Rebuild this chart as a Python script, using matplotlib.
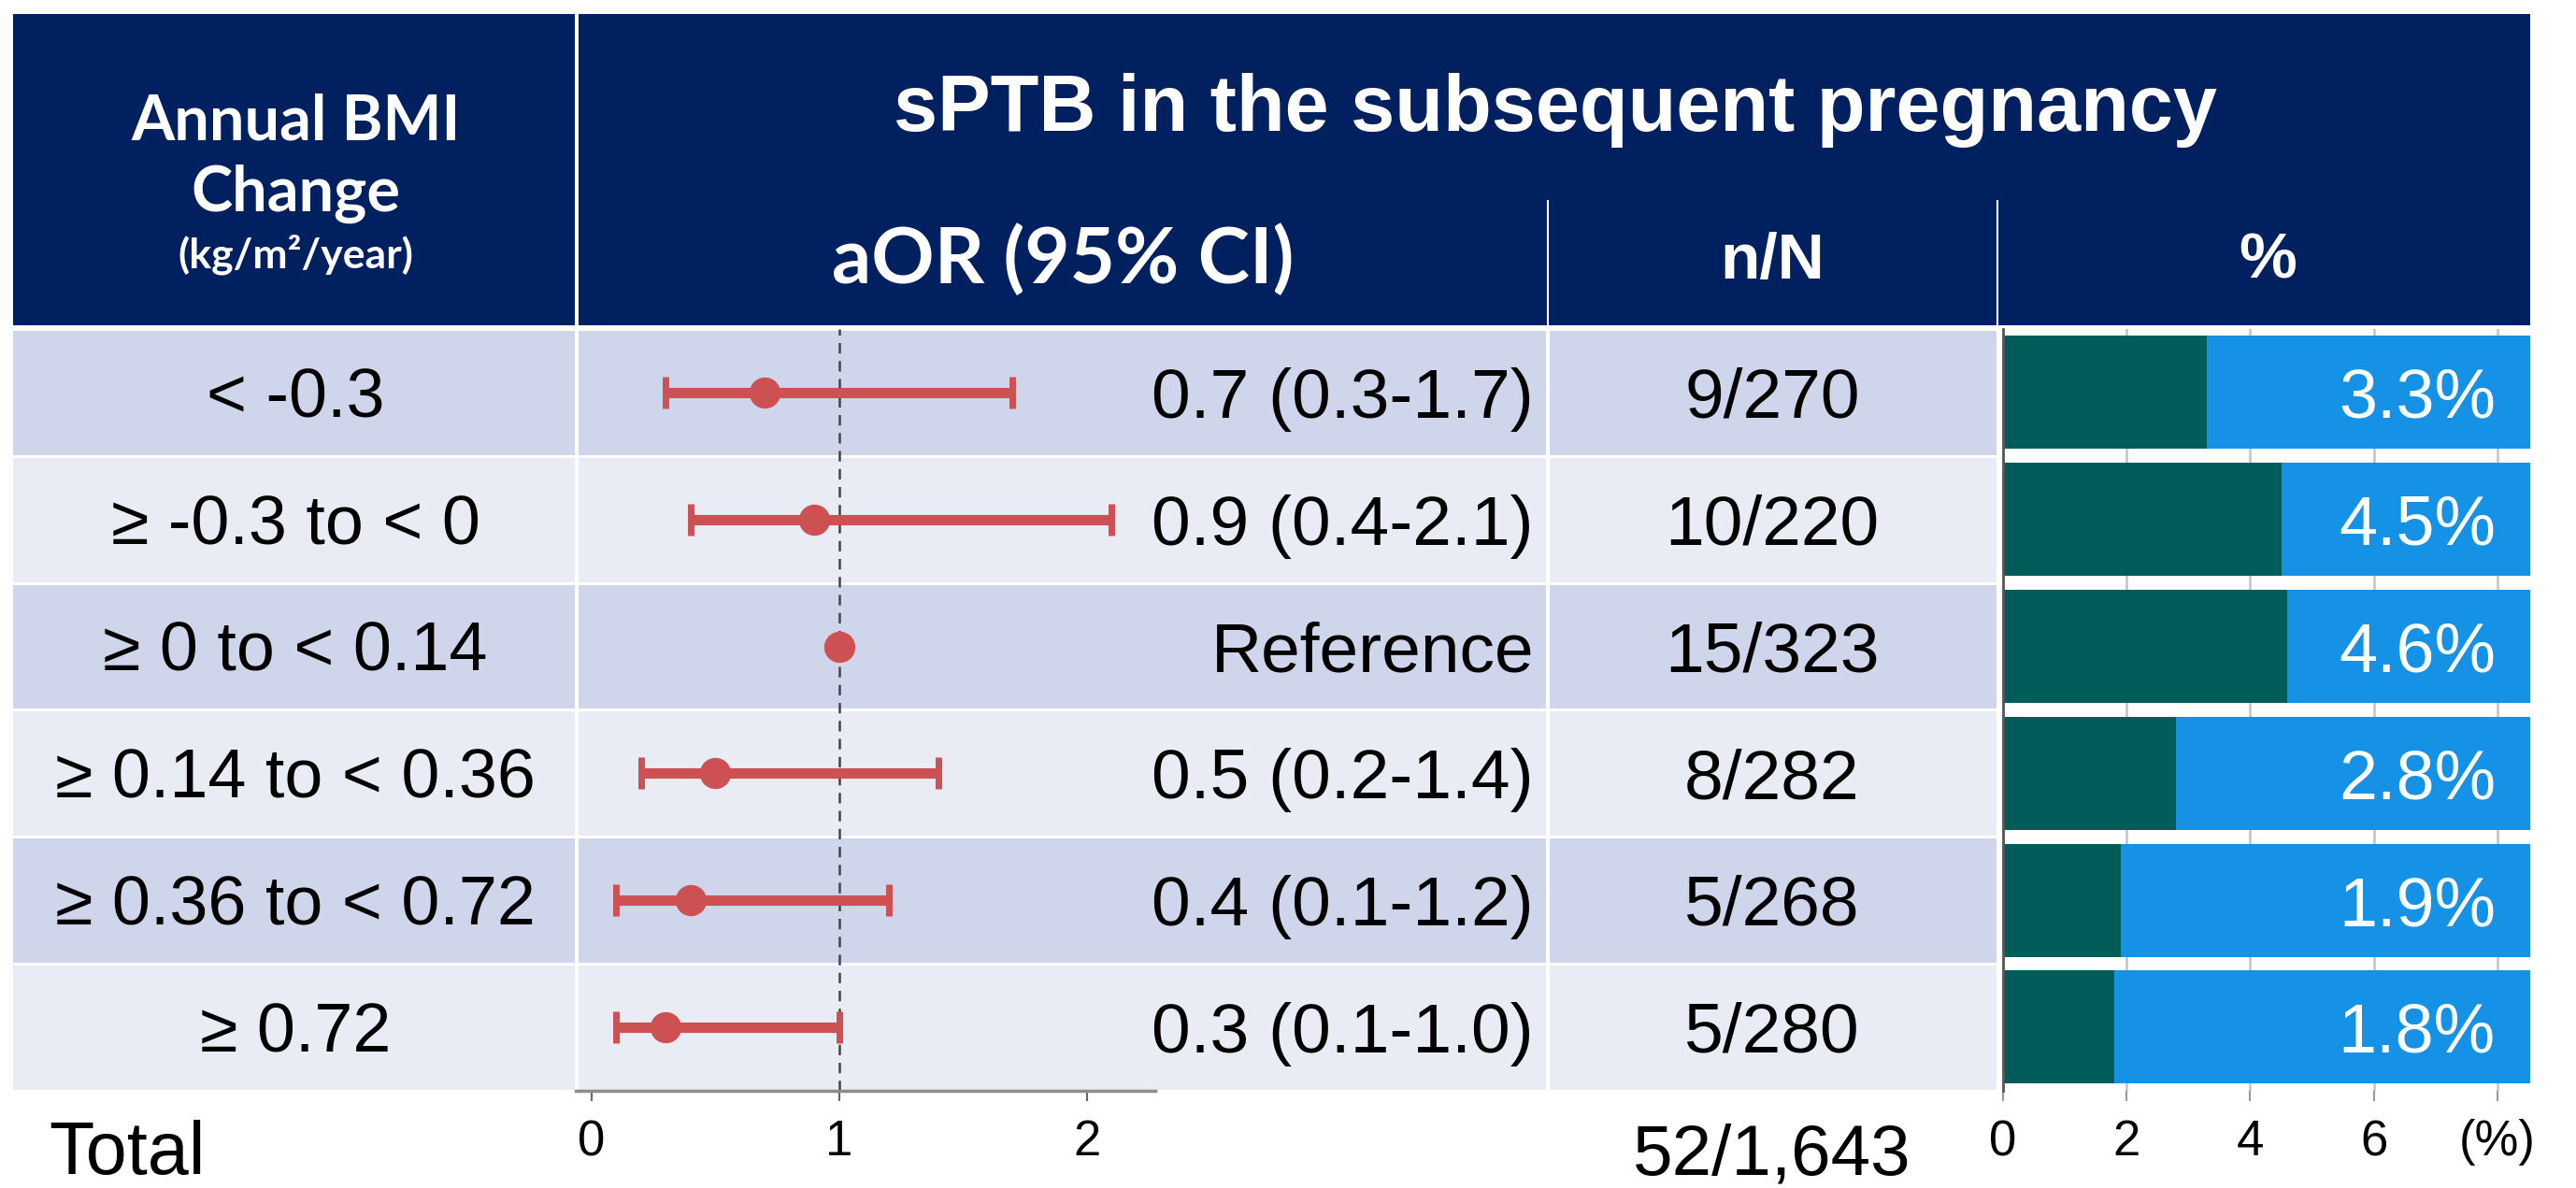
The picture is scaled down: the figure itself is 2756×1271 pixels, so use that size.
import matplotlib
matplotlib.use("Agg")
import matplotlib.pyplot as plt
from matplotlib.patches import Rectangle

# ---------------- data ----------------
categories = ["< -0.3", "≥ -0.3 to < 0", "≥ 0 to < 0.14", "≥ 0.14 to < 0.36",
              "≥ 0.36 to < 0.72", "≥ 0.72"]
aor = [0.7, 0.9, 1.0, 0.5, 0.4, 0.3]
ci_low = [0.3, 0.4, None, 0.2, 0.1, 0.1]
ci_high = [1.7, 2.1, None, 1.4, 1.2, 1.0]
aor_labels = ["0.7 (0.3-1.7)", "0.9 (0.4-2.1)", "Reference", "0.5 (0.2-1.4)",
              "0.4 (0.1-1.2)", "0.3 (0.1-1.0)"]
n_events = [9, 10, 15, 8, 5, 5]
n_total = [270, 220, 323, 282, 268, 280]
pct = [3.3, 4.5, 4.6, 2.8, 1.9, 1.8]
total_label = "Total"
total_count = "52/1,643"
forest_ticks = [0, 1, 2]
pct_ticks = [0, 2, 4, 6, 8]
pct_tick_labels = ["0", "2", "4", "6", "(%)"]

# ---------------- style ----------------
W, H, DPI = 2756, 1271, 100
NAVY = "#00205F"
BAND_D = "#CFD5EA"
BAND_L = "#E9EBF5"
GREEN = "#025D5A"
BLUE = "#1591E6"
RED = "#CD5052"
ARIAL = ["Liberation Sans", "DejaVu Sans"]
CAL = ["Lato", "DejaVu Sans"]

fig = plt.figure(figsize=(W / DPI, H / DPI), dpi=DPI)
fig.patch.set_facecolor("white")

bg = fig.add_axes([0, 0, 1, 1])
bg.set_xlim(0, W)
bg.set_ylim(H, 0)
bg.axis("off")


def px_axes(x0, y0, x1, y1):
    return fig.add_axes([x0 / W, 1 - y1 / H, (x1 - x0) / W, (y1 - y0) / H])


def ptxt(x, yc, s, size, ha="center", color="black", weight="normal", family=ARIAL):
    base = yc + 0.358 * size * DPI / 72.0
    bg.text(x, base, s, fontsize=size, ha=ha, va="baseline", color=color,
            fontweight=weight, family=family)


# ---------------- geometry ----------------
n = len(categories)
Y0 = 352
P = 135.8
Y1 = Y0 + n * P
row_c = [Y0 + (i + 0.5) * P for i in range(n)]
cols = [(14, 615), (619, 1654), (1658, 2136)]

# header
bg.add_patch(Rectangle((14, 15), 601, 333, color=NAVY, lw=0))
bg.add_patch(Rectangle((619, 15), 2088, 333, color=NAVY, lw=0))
for xd in (1656, 2137):
    bg.plot([xd, xd], [215, 348], color="white", lw=1.5)

# row bands
for i in range(n):
    c = BAND_D if i % 2 == 0 else BAND_L
    for (a, b) in cols:
        bg.add_patch(Rectangle((a, Y0 + i * P + 2), b - a, P - 3, color=c, lw=0))

# header text
bg.text(316, 150, "Annual BMI", fontsize=48, ha="center", va="baseline",
        color="white", fontweight="bold", family=CAL)
bg.text(316, 226, "Change", fontsize=48, ha="center", va="baseline",
        color="white", fontweight="bold", family=CAL)
bg.text(316, 287, "(kg/m²/year)", fontsize=32, ha="center", va="baseline",
        color="white", fontweight="bold", family=CAL)
bg.text(1664, 140, "sPTB in the subsequent pregnancy", fontsize=61, ha="center",
        va="baseline", color="white", fontweight="bold", family=ARIAL)
bg.text(1137, 303, "aOR (95% CI)", fontsize=60, ha="center", va="baseline",
        color="white", fontweight="bold", family=CAL)
bg.text(1896, 298, "n/N", fontsize=50, ha="center", va="baseline",
        color="white", fontweight="bold", family=ARIAL)
bg.text(2426, 298, "%", fontsize=50, ha="center", va="baseline",
        color="white", fontweight="bold", family=ARIAL)

# row text
for i in range(n):
    ptxt(316, row_c[i], categories[i], 53)
    ptxt(1641, row_c[i], aor_labels[i], 54, ha="right")
    ptxt(1896, row_c[i], f"{n_events[i]}/{n_total[i]}", 54)

bg.text(136, 1256, total_label, fontsize=57, ha="center", va="baseline", family=ARIAL)
bg.text(1896, 1256, total_count, fontsize=55, ha="center", va="baseline", family=ARIAL)

# ---------------- forest plot ----------------
axf = px_axes(616, Y0, 1236, Y1)
axf.patch.set_alpha(0)
axf.set_xlim(-0.064, 2.276)
axf.set_ylim(n - 0.5, -0.5)
axf.axvline(1, color="#444444", lw=1.8, ls=(0, (4.5, 3.2)), zorder=1)
for i in range(n):
    if ci_low[i] is not None:
        axf.errorbar(aor[i], i, xerr=[[aor[i] - ci_low[i]], [ci_high[i] - aor[i]]],
                     fmt="o", color=RED, ms=23, elinewidth=8, capsize=12,
                     capthick=5, zorder=3)
    else:
        axf.plot(aor[i], i, "o", color=RED, ms=23, zorder=3)
for s in ("top", "left", "right"):
    axf.spines[s].set_visible(False)
axf.spines["bottom"].set_color("#8C8C8C")
axf.spines["bottom"].set_linewidth(2.5)
axf.set_yticks([])
axf.set_xticks(forest_ticks)
axf.set_xticklabels([str(t) for t in forest_ticks], family=ARIAL)
axf.tick_params(axis="x", labelsize=38, length=8, width=1.5, color="#666666", pad=14)

# ---------------- percentage bars ----------------
XMAX = 8.53
axb = px_axes(2143, Y0, 2707, Y1)
axb.set_xlim(0, XMAX)
axb.set_ylim(n - 0.5, -0.5)
ys = list(range(n))
axb.barh(ys, pct, height=0.89, color=GREEN, zorder=2)
axb.barh(ys, [XMAX - v for v in pct], left=pct, height=0.89, color=BLUE, zorder=2)
axb.set_axisbelow(True)
axb.grid(axis="x", color="#C8C8C8", lw=2)
axb.grid(axis="y", visible=False)
for s in ("top", "right", "bottom"):
    axb.spines[s].set_visible(False)
axb.spines["left"].set_color("#555555")
axb.spines["left"].set_linewidth(2)
axb.set_yticks([])
axb.set_xticks(pct_ticks)
axb.set_xticklabels(pct_tick_labels, family=ARIAL)
axb.tick_params(axis="x", labelsize=38, length=8, width=1.5, color="#999999", pad=14)
for i, v in enumerate(pct):
    axb.text(7.97, i, f"{v:.1f}%", fontsize=53, ha="right", va="center_baseline",
             color="white", family=ARIAL, zorder=4)

fig.savefig("out.png", dpi=DPI, facecolor="white")
